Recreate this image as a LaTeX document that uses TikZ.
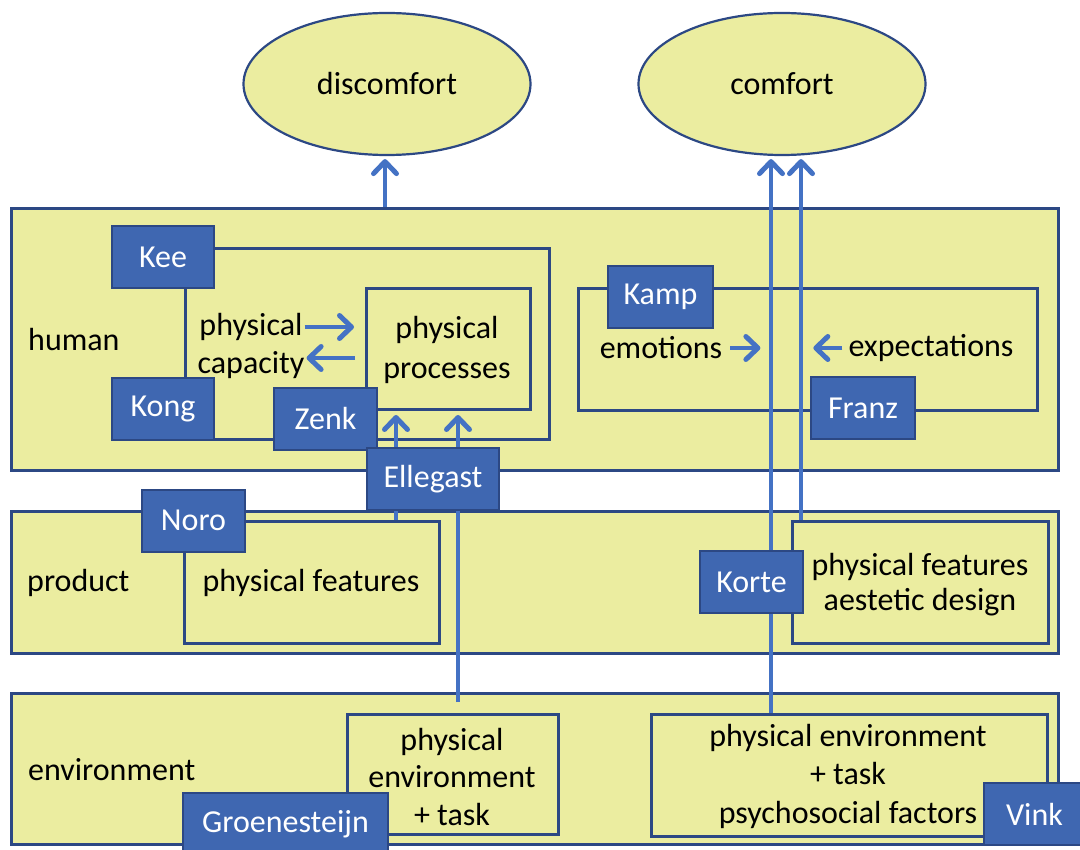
\documentclass[tikz,border=0pt]{standalone}
\usepackage{fontspec}
\setmainfont{Carlito}
\usetikzlibrary{arrows.meta,shapes.geometric}
\definecolor{yfill}{RGB}{235,237,160}
\definecolor{bord}{RGB}{44,72,132}
\definecolor{nfill}{RGB}{63,103,177}
\definecolor{conn}{RGB}{68,114,196}
\begin{document}
\begin{tikzpicture}[x=1pt,y=-1pt,
  every node/.style={font=\fontsize{32}{38}\selectfont, inner sep=0pt},
  bigbox/.style={draw=bord, line width=3pt, fill=yfill, anchor=north west},
  innerbox/.style={draw=bord, line width=3pt, fill=yfill, anchor=north west},
  framebox/.style={draw=bord, line width=3pt, anchor=north west},
  namebox/.style={draw=bord, line width=2pt, fill=nfill, text=white, minimum height=62pt},
  txt/.style={align=center},
  oval/.style={ellipse, draw=bord, line width=2.2pt, fill=yfill, minimum height=142pt},
  arr/.style={draw=conn, line width=4pt, -{Straight Barb[length=12pt,width=23pt,line width=5pt,round]}}
]
\useasboundingbox (0,0) rectangle (1080,850);
\clip (0,0) rectangle (1080,850);

% main layers
\node[bigbox, minimum width=1047pt, minimum height=262pt] (human) at (10,207) {};
\node[bigbox, minimum width=1047pt, minimum height=142pt] (product) at (10,510) {};
\node[bigbox, minimum width=1047pt, minimum height=151pt] (env) at (10,692) {};

% ovals
\node[oval, minimum width=287pt] (discomfort) at (387,84) {discomfort};
\node[oval, minimum width=287pt] (comfort) at (782,84) {comfort};

% inner frames and boxes
\node[framebox, minimum width=364pt, minimum height=191pt] (capframe) at (184,247) {};
\node[innerbox, minimum width=164pt, minimum height=121pt] (proc) at (365,287) {};
\node[framebox, minimum width=459pt, minimum height=122pt] (emoframe) at (577,287) {};
\node[innerbox, minimum width=255pt, minimum height=122pt] (pfL) at (183,520) {};
\node[innerbox, minimum width=256pt, minimum height=122pt] (pfR) at (791,520) {};
\node[innerbox, minimum width=211pt, minimum height=120pt] (envL) at (346,713) {};
\node[innerbox, minimum width=396pt, minimum height=122pt] (envR) at (650,713) {};

% texts
\node[anchor=west] (thuman) at (28,340) {human};
\node[anchor=west] (tproduct) at (27,583) {product};
\node[anchor=west] (tenv) at (28,770) {environment};
\node[txt] (cap) at (251,346) {physical\\capacity};
\node[txt, font=\fontsize{32}{40}\selectfont] (tproc) at (447,350) {physical\\processes};
\node (emo) at (661,348) {emotions};
\node (expc) at (931,348) {expectations};
\node (tpfL) at (311,583) {physical features};
\node[txt, font=\fontsize{32}{35}\selectfont] (tpfR) at (920,585) {physical features\\aestetic design};
\node[txt, font=\fontsize{32}{37.5}\selectfont] (tenvL) at (452,777) {physical\\environment\\+ task};
\node[txt, font=\fontsize{32}{38.5}\selectfont] (tenvR) at (848,776) {physical environment\\+ task\\psychosocial factors};

% connectors
\coordinate (da) at (385,207);
\draw[arr, shorten >=3pt] (da) -- (da |- discomfort.south);
\coordinate (ca) at (771,713);
\draw[arr, shorten >=3pt] (ca) -- (ca |- comfort.south);
\coordinate (cb) at (801,520);
\draw[arr, shorten >=3pt] (cb) -- (cb |- comfort.south);
\coordinate (ea) at (396,520);
\draw[arr, shorten >=4pt] (ea) -- (ea |- proc.south);
\coordinate (eb) at (458,702);
\draw[arr, shorten >=4pt] (eb) -- (eb |- proc.south);
\draw[arr] (cap.east |- 0,327) -- ([xshift=-11pt]proc.west |- 0,327);
\draw[arr] ([xshift=-10pt]proc.west |- 0,358) -- ([xshift=2pt]cap.east |- 0,358);
\draw[arr] ([xshift=8pt]emo.east) -- +(30,0);
\draw[arr] ([xshift=-6pt]expc.west) -- +(-29,0);

% name boxes
\node[namebox, minimum width=102pt] (kee) at (163,257) {Kee};
\node[namebox, minimum width=102pt] (kong) at (163,409) {Kong};
\node[namebox, minimum width=103pt] (zenk) at (325.5,419) {Zenk};
\node[namebox, minimum width=105pt] (kamp) at (660.5,297) {Kamp};
\node[namebox, minimum width=104pt] (franz) at (863,408.5) {Franz};
\node[namebox, minimum width=132pt] (ellegast) at (433,479) {Ellegast};
\node[namebox, minimum width=103pt] (noro) at (193.5,520.5) {Noro};
\node[namebox, minimum width=103pt] (korte) at (751.5,582) {Korte};
\node[namebox, minimum width=205pt] (groen) at (285.5,824) {Groenesteijn};
\node[namebox, minimum width=105pt] (vink) at (1036.5,814) {\hspace*{-4pt}Vink};
\end{tikzpicture}
\end{document}
